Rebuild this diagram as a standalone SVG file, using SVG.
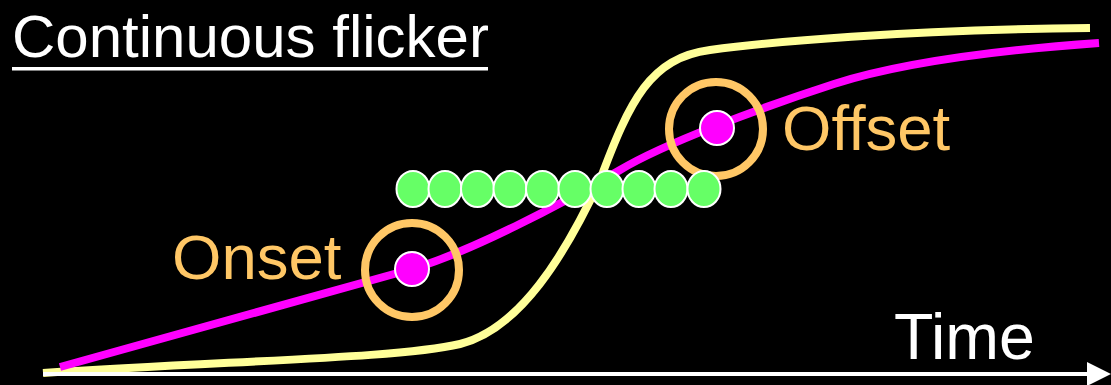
<svg xmlns="http://www.w3.org/2000/svg" width="1111" height="385" viewBox="0 0 1111 385">
  <style>
    .label { font-family: "Liberation Sans", Arial, sans-serif; }
    .curve { fill: none; stroke-width: 8; stroke-linecap: butt; }
    .ring { fill: none; stroke: #FFC766; stroke-width: 8; }
    .dot { fill: #FF00FF; stroke: #FFFFFF; stroke-width: 2; }
    .sample { fill: #66FF66; stroke: #FFFFFF; stroke-width: 2; }
  </style>
  <rect width="1111" height="385" fill="#000000"/>

  <!-- title -->
  <g id="title">
    <text class="label" x="12" y="57" font-size="60" fill="#FFFFFF">Continuous flicker</text>
    <rect x="12" y="67" width="476" height="3.5" fill="#FFFFFF"/>
  </g>

  <!-- curves and time axis -->
  <g id="connectors">
    <path class="curve" stroke="#FFFF99" d="M 43 373 C 250 360, 400 358, 460 344 C 520 329, 565 255, 600 180 C 630 100, 650 58, 710 50 C 770 42, 900 30, 1090 28"/>
    <path class="curve" stroke="#FF00FF" d="M 60 367 L 412 269 C 470 252, 560 205, 620 170 C 665 143, 760 108, 834 84 C 900 63, 1000 50, 1099 43"/>
    <line x1="43" y1="374" x2="1090" y2="374" stroke="#FFFFFF" stroke-width="4"/>
    <polygon points="1087,362 1111,374 1087,386" fill="#FFFFFF"/>
  </g>

  <!-- onset marker -->
  <g id="onset">
    <circle class="ring" cx="412" cy="270" r="47"/>
    <circle class="dot" cx="412" cy="269" r="17"/>
    <text class="label" x="172" y="279" font-size="63.5" fill="#FFC766">Onset</text>
  </g>

  <!-- offset marker -->
  <g id="offset">
    <circle class="ring" cx="716" cy="129" r="47"/>
    <circle class="dot" cx="717" cy="128" r="17"/>
    <text class="label" x="782" y="150" font-size="63.5" fill="#FFC766">Offset</text>
  </g>

  <!-- row of flicker samples -->
  <g id="samples">
    <ellipse class="sample" cx="413" cy="189" rx="16.5" ry="18"/>
    <ellipse class="sample" cx="445" cy="189" rx="16.5" ry="18"/>
    <ellipse class="sample" cx="477.5" cy="189" rx="16.5" ry="18"/>
    <ellipse class="sample" cx="510" cy="189" rx="16.5" ry="18"/>
    <ellipse class="sample" cx="542.5" cy="189" rx="16.5" ry="18"/>
    <ellipse class="sample" cx="575" cy="189" rx="16.5" ry="18"/>
    <ellipse class="sample" cx="607" cy="189" rx="16.5" ry="18"/>
    <ellipse class="sample" cx="639" cy="189" rx="16.5" ry="18"/>
    <ellipse class="sample" cx="671" cy="189" rx="16.5" ry="18"/>
    <ellipse class="sample" cx="704" cy="189" rx="16.5" ry="18"/>
  </g>

  <!-- axis label -->
  <g id="time">
    <text class="label" x="894" y="359" font-size="64.5" fill="#FFFFFF">Time</text>
  </g>
</svg>
